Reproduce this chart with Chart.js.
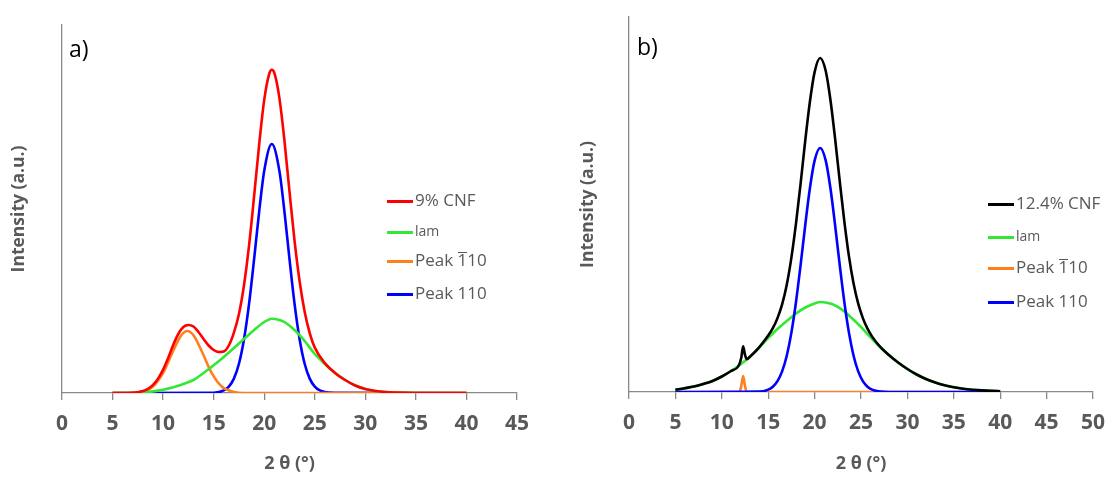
<!DOCTYPE html>
<html>
<head>
<meta charset="utf-8">
<script src="https://cdn.jsdelivr.net/npm/chart.js@4.4.1/dist/chart.umd.min.js"></script>
<style>
  body { margin: 0; background: #fff; font-family: 'Open Sans', sans-serif; }
  #wrap { position: relative; width: 1116px; height: 477px; overflow: hidden; }
  canvas { position: absolute; top: 0; }
  .tag { position: absolute; font-size: 23px; color: #000; line-height: 1; }
  .lg-line { position: absolute; height: 3px; width: 26px; }
  .lg-text { position: absolute; color: #595959; font-size: 17px; line-height: 1; white-space: nowrap; }
  .ov { display: inline-block; line-height: 0.78; border-top: 1.3px solid #595959; }
</style>
</head>
<body>
<div id="wrap">
  <canvas id="chartA" width="560" height="477" style="left:0"></canvas>
  <canvas id="chartB" width="556" height="477" style="left:560px"></canvas>
  <div class="tag" style="left:69px; top:37px">a)</div>
  <div class="tag" style="left:637px; top:35px">b)</div>
</div>
<script>
// Panel a) 9% CNF  (2θ in degrees, intensity in a.u.)
const aRedX = [5, 6, 7, 7.5, 8, 8.5, 9, 9.5, 10, 10.5, 11, 11.5, 12, 12.5, 13, 13.5, 14, 14.5, 15, 15.5, 16, 16.5, 17, 17.5, 18, 18.5, 19, 19.5, 20, 20.5, 20.75, 21, 21.5, 22, 22.5, 23, 23.5, 24, 24.5, 25, 26, 27, 28, 29, 30, 31, 32, 34, 36, 40];
const aRedY = [0, 0, 0.3, 0.8, 1.9, 4.2, 8.1, 14.4, 23.4, 35.1, 48.1, 59, 66, 68, 66.5, 61, 54, 47.5, 43, 41, 41.5, 47.5, 60.4, 79.1, 107.8, 147.6, 196.8, 248.4, 293.1, 319.4, 323.3, 320.1, 295.1, 252.4, 201.3, 152.1, 111.7, 81.2, 59.9, 45.4, 29.9, 20.1, 13, 7.5, 4, 2, 1, 0.2, 0, 0];

const aLamX = [5, 7, 8, 9, 10, 11, 12, 13, 14, 15, 16, 17, 18, 19, 20, 20.75, 21.5, 22, 23, 24, 25, 26, 27, 28, 29, 30, 31, 32, 34, 36, 40];
const aLamY = [0, 0.1, 0.5, 1.6, 3.3, 5.8, 9, 13, 20, 27.7, 36, 45, 54, 63, 71, 74.3, 73, 71, 63, 52, 39, 29, 20, 13, 7.5, 4, 2, 1, 0.2, 0, 0];

const aP1X = [5, 7, 8, 9, 10, 11, 11.8, 12.4, 13, 13.8, 14.8, 15.8, 17, 18, 40];
const aP1Y = [0, 0.2, 1.4, 6.5, 20.1, 42.3, 57.8, 62, 57.8, 42.3, 20.1, 6.5, 1, 0, 0];

const aP2X = [5, 15, 16, 16.5, 17, 17.5, 18, 18.5, 19, 19.5, 20, 20.75, 21.5, 22, 22.5, 23, 23.5, 24, 24.5, 25, 25.5, 26, 27, 40];
const aP2Y = [0, 0.3, 2.6, 6.4, 14.4, 29.2, 53.7, 89.1, 133.8, 181.4, 222.1, 249, 222.1, 181.4, 133.8, 89.1, 53.7, 29.2, 14.4, 6.4, 2.6, 0.9, 0.1, 0];

// Panel b) 12.4% CNF
const bTotX = [5, 6, 7, 8, 9, 10, 11, 11.8, 12.1, 12.3, 12.5, 12.7, 13, 14, 15, 15.5, 16, 16.5, 17, 17.5, 18, 18.5, 19, 19.5, 20, 20.6, 21.2, 21.7, 22.2, 22.7, 23.2, 23.7, 24.2, 24.7, 25.2, 25.7, 26.2, 27, 28, 29, 30, 31, 32, 33, 34, 35, 36, 37, 38, 39, 40];
const bTotY = [2.3, 3.8, 5.5, 8, 11, 15.5, 21, 26, 34.3, 45.7, 37.2, 32.8, 35, 44.4, 56.4, 63.8, 73.9, 87.6, 107.3, 134.4, 168.8, 209.1, 252, 290.7, 319.9, 334, 321, 292.5, 254.1, 211.6, 170.9, 135.9, 108.5, 88.3, 73.9, 63.3, 55.4, 45.9, 37, 29.5, 23, 17.5, 13, 9.5, 6.8, 4.8, 3.3, 2.3, 1.6, 1.1, 0.8];

const bLamX = [5, 6, 7, 8, 9, 10, 11, 12, 13, 14, 15, 16, 17, 18, 19, 20, 20.6, 21, 22, 23, 24, 25, 26, 27, 28, 29, 30, 31, 32, 33, 34, 35, 36, 37, 38, 39, 40];
const bLamY = [2.3, 3.8, 5.5, 8, 11, 15.5, 21, 27.5, 35, 44, 54, 63, 71, 78.5, 84.5, 88.5, 90, 89.8, 87.5, 82, 74, 65, 55, 45.5, 37, 29.5, 23, 17.5, 13, 9.5, 6.8, 4.8, 3.3, 2.3, 1.6, 1.1, 0.8];

const bP1X = [5, 11.9, 12.1, 12.3, 12.5, 12.7, 40];
const bP1Y = [0, 0, 6, 16, 6, 0, 0];

const bP2X = [5, 14, 15, 15.5, 16, 16.5, 17, 17.5, 18, 18.5, 19, 19.5, 20, 20.6, 21.2, 21.7, 22.2, 22.7, 23.2, 23.7, 24.2, 24.7, 25.2, 25.7, 26.2, 27.2, 28, 40];
const bP2Y = [0, 0.4, 2.4, 5.3, 10.9, 20.6, 36.3, 59.4, 90.3, 127.6, 167.5, 204.2, 231.4, 244, 231.4, 204.2, 167.5, 127.6, 90.3, 59.4, 36.3, 20.6, 10.9, 5.3, 2.4, 0.4, 0, 0];

const labelsA = ['9% CNF', 'lam', 'Peak 1̄10', 'Peak 110'];
const labelsB = ['12.4% CNF', 'lam', 'Peak 1̄10', 'Peak 110'];
const colorsA = ['#ff0000', '#33e833', '#ff7f1e', '#0000ff'];
const colorsB = ['#000000', '#33e833', '#ff7f1e', '#0000ff'];

Chart.defaults.font.family = "'Open Sans', sans-serif";

function toPoints(xs, ys) {
    return xs.map((x, i) => ({ x: x, y: ys[i] }));
}

function line(label, xs, ys, color, order) {
    return {
        label: label,
        data: toPoints(xs, ys),
        borderColor: color,
        backgroundColor: color,
        borderWidth: 2.6,
        pointRadius: 0,
        fill: false,
        cubicInterpolationMode: 'monotone',
        order: order
    };
}

function makeOptions(xMax, yMax, pad, yWidth, xHeight, yTitlePad, xTitlePad) {
    const axisGrey = '#898989';
    return {
        responsive: false,
        animation: false,
        devicePixelRatio: 1,
        layout: { padding: pad },
        plugins: { legend: { display: false }, tooltip: { enabled: false } },
        scales: {
            x: {
                type: 'linear',
                min: 0,
                max: xMax,
                ticks: { stepSize: 5, color: '#595959', font: { size: 21, weight: 'bold' }, padding: 11 },
                grid: { drawOnChartArea: false, tickLength: 7, color: axisGrey, tickColor: axisGrey, lineWidth: 1.3 },
                border: { color: axisGrey, width: 1.3 },
                title: { display: true, text: '2 θ (°)', color: '#595959', font: { size: 18, weight: 'bold' }, padding: { top: 0, bottom: xTitlePad } },
                afterFit: s => { s.height = xHeight; }
            },
            y: {
                min: 0,
                max: yMax,
                ticks: { display: false },
                grid: { display: false },
                border: { color: axisGrey, width: 1.3 },
                title: { display: true, text: 'Intensity (a.u.)', color: '#595959', font: { size: 17.5, weight: 'bold' }, padding: { top: yTitlePad, bottom: 0 } },
                afterFit: s => { s.width = yWidth; }
            }
        }
    };
}

new Chart(document.getElementById('chartA'), {
    type: 'line',
    data: {
        datasets: [
            line(labelsA[0], aRedX, aRedY, colorsA[0], 0),
            line(labelsA[1], aLamX, aLamY, colorsA[1], 1),
            line(labelsA[2], aP1X, aP1Y, colorsA[2], 2),
            line(labelsA[3], aP2X, aP2Y, colorsA[3], 3)
        ]
    },
    options: makeOptions(45, 368, { top: 25, right: 43, left: 0, bottom: 0 }, 62, 84, 8.5, 2)
});

new Chart(document.getElementById('chartB'), {
    type: 'line',
    data: {
        datasets: [
            line(labelsB[0], bTotX, bTotY, colorsB[0], 0),
            line(labelsB[1], bLamX, bLamY, colorsB[1], 2),
            line(labelsB[2], bP1X, bP1Y, colorsB[2], 3),
            line(labelsB[3], bP2X, bP2Y, colorsB[3], 1)
        ]
    },
    options: makeOptions(50, 375, { top: 17, right: 17, left: 0, bottom: 0 }, 69, 85, 17.5, 2)
});

// Legends drawn as html, placed inside the plot like the original
function addLegend(labels, colors, lineLeft, rows) {
    const wrap = document.getElementById('wrap');
    labels.forEach((lab, i) => {
        const l = document.createElement('div');
        l.className = 'lg-line';
        l.style.left = lineLeft + 'px';
        l.style.top = (rows[i] - 1.5) + 'px';
        l.style.background = colors[i];
        wrap.appendChild(l);

        const t = document.createElement('div');
        t.className = 'lg-text';
        t.style.left = (lineLeft + 28) + 'px';
        if (lab === 'lam') t.style.fontSize = '14px';
        t.style.top = (rows[i] - (lab === 'lam' ? 8 : 10)) + 'px';
        if (lab.indexOf('1̄') >= 0) {
            t.innerHTML = 'Peak <span class="ov">1</span>10';
        } else {
            t.textContent = lab;
        }
        wrap.appendChild(t);
    });
}

addLegend(labelsA, colorsA, 387, [201, 232, 261, 294]);
addLegend(labelsB, colorsB, 988, [204, 237, 268, 302]);
</script>
</body>
</html>
